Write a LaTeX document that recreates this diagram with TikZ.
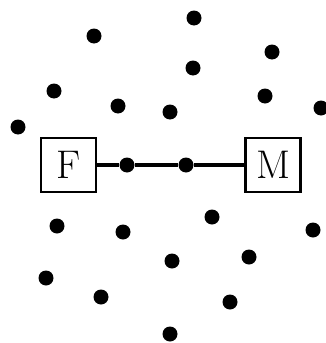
\documentclass[tikz,border=0pt]{standalone}
\begin{document}
\begin{tikzpicture}[x=1pt,y=-1pt,
  dot/.style={circle,fill=black,inner sep=0pt,minimum size=15pt},
  term/.style={draw,line width=2.8pt,minimum width=55pt,minimum height=54pt,inner sep=0pt,font=\fontsize{40}{40}\selectfont}]
\useasboundingbox (0,0) rectangle (326,343);

\node[term] (F) at (68.5,165) {F};
\node[term] (M) at (273,165) {M};

\node[dot] (d1) at (127,165) {};
\node[dot] (d2) at (186,165) {};

\draw[line width=4pt] (F) -- (d1) -- (d2) -- (M);

% scattered dots
\node[dot] (s1) at (194,18) {};
\node[dot] (s2) at (94,36) {};
\node[dot] (s3) at (272,52) {};
\node[dot] (s4) at (193,68) {};
\node[dot] (s5) at (54,91) {};
\node[dot] (s6) at (265,96) {};
\node[dot] (s7) at (118,106) {};
\node[dot] (s8) at (170,112) {};
\node[dot] (s9) at (321,108) {};
\node[dot] (s10) at (18,127) {};
\node[dot] (s11) at (212,217) {};
\node[dot] (s12) at (57,226) {};
\node[dot] (s13) at (313,230) {};
\node[dot] (s14) at (123,232) {};
\node[dot] (s15) at (249,257) {};
\node[dot] (s16) at (172,261) {};
\node[dot] (s17) at (46,278) {};
\node[dot] (s18) at (101,297) {};
\node[dot] (s19) at (230,302) {};
\node[dot] (s20) at (170,334) {};
\end{tikzpicture}
\end{document}
